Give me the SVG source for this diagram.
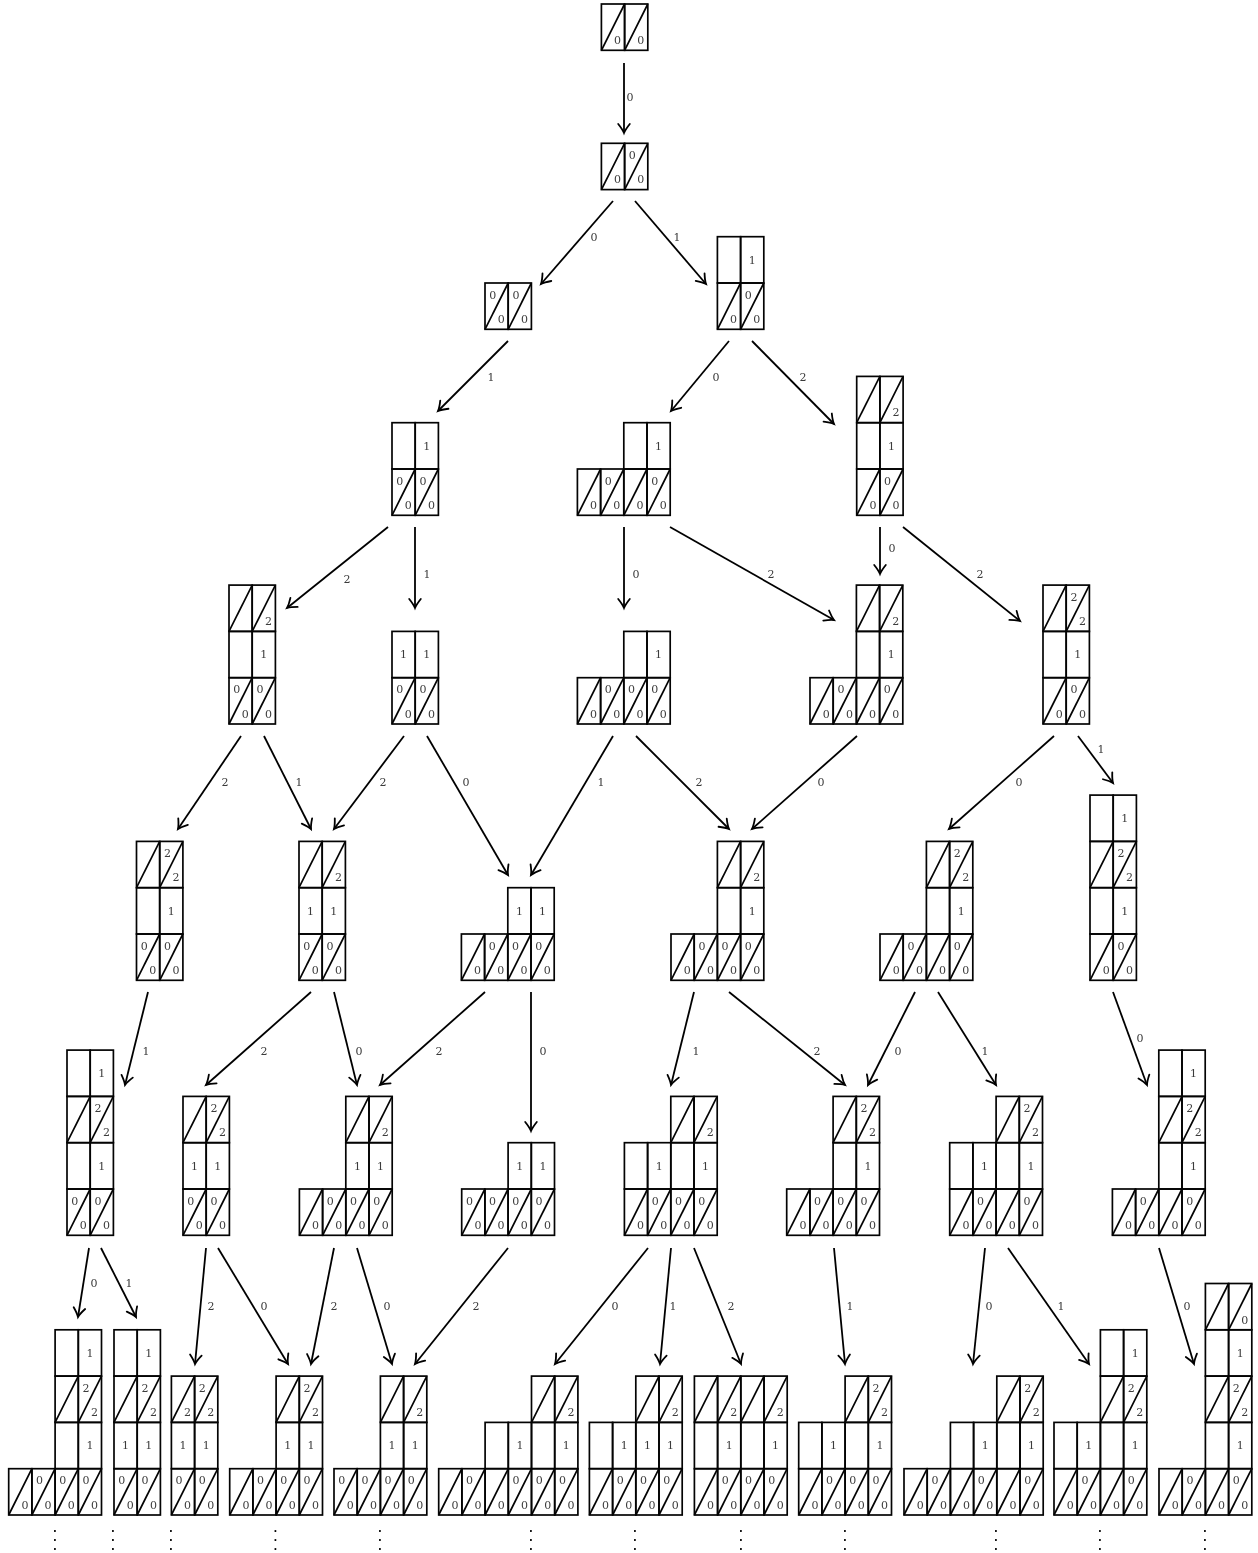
<svg xmlns="http://www.w3.org/2000/svg" xmlns:xlink="http://www.w3.org/1999/xlink" width="1258" height="1553" viewBox="0 0 1258 1553">
<style>
text{font-family:"DejaVu Serif","Liberation Serif",serif;font-size:11px;fill:#3a3a3a;text-anchor:middle}
text.v{font-family:"Liberation Sans",Arial,sans-serif;font-weight:700;font-size:12px;fill:#000}
.cell{fill:none;stroke:#000;stroke-width:1.7}
#edges line{stroke:#000;stroke-width:1.8;marker-end:url(#a)}
#nodes,#dots{opacity:.99}
#labels{filter:url(#g)}
</style>
<defs>
<filter id="g" filterUnits="userSpaceOnUse" x="0" y="0" width="1258" height="1553" color-interpolation-filters="sRGB"><feOffset dx="0" dy="0"/></filter>
<marker id="a" markerUnits="userSpaceOnUse" markerWidth="14" markerHeight="16" refX="12" refY="8" orient="auto" overflow="visible"><path d="M3 2.2Q8.5 6.6 12 8Q8.500 9.400 3 13.800" fill="none" stroke="#000" stroke-width="1.8" stroke-linecap="round"/></marker>
<g id="c"><rect class="cell" width="23.2" height="46.3"/></g>
<g id="d"><rect class="cell" width="23.2" height="46.3"/><line class="cell" x1="0" y1="46.3" x2="23.2" y2="0"/></g>
</defs>
<rect width="1258" height="1553" fill="#fff"/>
<g id="connectors">
<g id="edges">
<line x1="624" y1="63" x2="624" y2="133"/>
<line x1="613" y1="201" x2="541" y2="284"/>
<line x1="635" y1="201" x2="706" y2="284"/>
<line x1="508" y1="341" x2="438" y2="411"/>
<line x1="729" y1="341" x2="671" y2="411"/>
<line x1="752" y1="341" x2="834" y2="424"/>
<line x1="388" y1="527" x2="287" y2="608"/>
<line x1="415" y1="527" x2="415" y2="608"/>
<line x1="624" y1="527" x2="624" y2="608"/>
<line x1="670" y1="527" x2="834" y2="620"/>
<line x1="880" y1="527" x2="880" y2="574"/>
<line x1="903" y1="527" x2="1020" y2="621"/>
<line x1="241" y1="736" x2="178" y2="829"/>
<line x1="264" y1="736" x2="311" y2="829"/>
<line x1="404" y1="736" x2="334" y2="829"/>
<line x1="427" y1="736" x2="508" y2="875"/>
<line x1="613" y1="736" x2="531" y2="875"/>
<line x1="636" y1="736" x2="729" y2="829"/>
<line x1="857" y1="736" x2="752" y2="829"/>
<line x1="1054" y1="736" x2="949" y2="829"/>
<line x1="1078" y1="736" x2="1113" y2="783"/>
<line x1="148" y1="992" x2="125" y2="1085"/>
<line x1="311" y1="992" x2="206" y2="1085"/>
<line x1="334" y1="992" x2="357" y2="1085"/>
<line x1="485" y1="992" x2="380" y2="1085"/>
<line x1="531" y1="992" x2="531" y2="1131"/>
<line x1="694" y1="992" x2="671" y2="1085"/>
<line x1="729" y1="992" x2="845" y2="1085"/>
<line x1="915" y1="992" x2="868" y2="1085"/>
<line x1="938" y1="992" x2="996" y2="1085"/>
<line x1="1113" y1="992" x2="1147" y2="1085"/>
<line x1="89" y1="1248" x2="78" y2="1317"/>
<line x1="101" y1="1248" x2="136" y2="1317"/>
<line x1="206" y1="1248" x2="195" y2="1364"/>
<line x1="218" y1="1248" x2="288" y2="1364"/>
<line x1="334" y1="1248" x2="311" y2="1364"/>
<line x1="357" y1="1248" x2="392" y2="1364"/>
<line x1="508" y1="1248" x2="415" y2="1364"/>
<line x1="648" y1="1248" x2="555" y2="1364"/>
<line x1="671" y1="1248" x2="660" y2="1364"/>
<line x1="694" y1="1248" x2="741" y2="1364"/>
<line x1="834" y1="1248" x2="845" y2="1364"/>
<line x1="985" y1="1248" x2="973" y2="1364"/>
<line x1="1008" y1="1248" x2="1089" y2="1364"/>
<line x1="1159" y1="1248" x2="1194" y2="1364"/>
</g>
<g id="labels">
<text x="630" y="101">0</text><text x="594" y="241">0</text><text x="677" y="241">1</text><text x="491" y="381">1</text><text x="716" y="381">0</text><text x="803" y="381">2</text><text x="347" y="583">2</text><text x="427" y="578">1</text><text x="636" y="578">0</text><text x="771" y="578">2</text><text x="892" y="552">0</text><text x="980" y="578">2</text><text x="225" y="786">2</text><text x="299" y="786">1</text><text x="383" y="786">2</text><text x="466" y="786">0</text><text x="601" y="786">1</text><text x="699" y="786">2</text><text x="821" y="786">0</text><text x="1019" y="786">0</text><text x="1101" y="753">1</text><text x="146" y="1055">1</text><text x="264" y="1055">2</text><text x="359" y="1055">0</text><text x="439" y="1055">2</text><text x="543" y="1055">0</text><text x="696" y="1055">1</text><text x="817" y="1055">2</text><text x="898" y="1055">0</text><text x="985" y="1055">1</text><text x="1140" y="1042">0</text><text x="94" y="1287">0</text><text x="129" y="1287">1</text><text x="211" y="1310">2</text><text x="264" y="1310">0</text><text x="334" y="1310">2</text><text x="387" y="1310">0</text><text x="476" y="1310">2</text><text x="615" y="1310">0</text><text x="673" y="1310">1</text><text x="731" y="1310">2</text><text x="850" y="1310">1</text><text x="989" y="1310">0</text><text x="1061" y="1310">1</text><text x="1187" y="1310">0</text>
</g>
</g>
<g id="nodes">
<g id="n0" transform="translate(601.4,4)"><use href="#d"/><use href="#d" x="23.2"/><text x="16.2" y="40">0</text><text x="39.4" y="40">0</text></g>
<g id="n1" transform="translate(601.4,143.300)"><use href="#d"/><use href="#d" x="23.2"/><text x="16.2" y="40">0</text><text x="30.9" y="15.7">0</text><text x="39.4" y="40">0</text></g>
<g id="n2" transform="translate(485,283)"><use href="#d"/><use href="#d" x="23.2"/><text x="7.7" y="15.7">0</text><text x="16.2" y="40">0</text><text x="30.9" y="15.7">0</text><text x="39.4" y="40">0</text></g>
<g id="n3" transform="translate(717.4,236.700)"><use href="#c"/><use href="#c" x="23.2"/><text x="34.8" y="27">1</text><use href="#d" y="46.3"/><use href="#d" x="23.2" y="46.3"/><text x="16.2" y="86.3">0</text><text x="30.9" y="62">0</text><text x="39.4" y="86.3">0</text></g>
<g id="n4" transform="translate(392,422.700)"><use href="#c"/><use href="#c" x="23.2"/><text x="34.8" y="27">1</text><use href="#d" y="46.3"/><use href="#d" x="23.2" y="46.3"/><text x="7.7" y="62">0</text><text x="16.2" y="86.3">0</text><text x="30.9" y="62">0</text><text x="39.4" y="86.3">0</text></g>
<g id="n5" transform="translate(577.4,422.700)"><use href="#c" x="46.4"/><use href="#c" x="69.6"/><text x="81.2" y="27">1</text><use href="#d" y="46.3"/><use href="#d" x="23.2" y="46.3"/><use href="#d" x="46.4" y="46.3"/><use href="#d" x="69.6" y="46.3"/><text x="16.2" y="86.3">0</text><text x="30.9" y="62">0</text><text x="39.4" y="86.3">0</text><text x="62.6" y="86.3">0</text><text x="77.3" y="62">0</text><text x="85.8" y="86.3">0</text></g>
<g id="n6" transform="translate(856.7,376.400)"><use href="#d"/><use href="#d" x="23.2"/><text x="39.4" y="40">2</text><use href="#c" y="46.3"/><use href="#c" x="23.2" y="46.3"/><text x="34.8" y="73.3">1</text><use href="#d" y="92.6"/><use href="#d" x="23.2" y="92.6"/><text x="16.2" y="132.6">0</text><text x="30.9" y="108.3">0</text><text x="39.4" y="132.6">0</text></g>
<g id="n7" transform="translate(229,585.100)"><use href="#d"/><use href="#d" x="23.2"/><text x="39.4" y="40">2</text><use href="#c" y="46.3"/><use href="#c" x="23.2" y="46.3"/><text x="34.8" y="73.3">1</text><use href="#d" y="92.6"/><use href="#d" x="23.2" y="92.6"/><text x="7.7" y="108.3">0</text><text x="16.2" y="132.6">0</text><text x="30.9" y="108.3">0</text><text x="39.4" y="132.6">0</text></g>
<g id="n8" transform="translate(392,631.400)"><use href="#c"/><use href="#c" x="23.2"/><text x="11.6" y="27">1</text><text x="34.8" y="27">1</text><use href="#d" y="46.3"/><use href="#d" x="23.2" y="46.3"/><text x="7.7" y="62">0</text><text x="16.2" y="86.3">0</text><text x="30.9" y="62">0</text><text x="39.4" y="86.3">0</text></g>
<g id="n9" transform="translate(577.4,631.400)"><use href="#c" x="46.4"/><use href="#c" x="69.6"/><text x="81.2" y="27">1</text><use href="#d" y="46.3"/><use href="#d" x="23.2" y="46.3"/><use href="#d" x="46.4" y="46.3"/><use href="#d" x="69.6" y="46.3"/><text x="16.2" y="86.3">0</text><text x="30.9" y="62">0</text><text x="39.4" y="86.3">0</text><text x="54.1" y="62">0</text><text x="62.6" y="86.3">0</text><text x="77.3" y="62">0</text><text x="85.8" y="86.3">0</text></g>
<g id="n10" transform="translate(810,585.100)"><use href="#d" x="46.4"/><use href="#d" x="69.6"/><text x="85.8" y="40">2</text><use href="#c" x="46.4" y="46.3"/><use href="#c" x="69.6" y="46.3"/><text x="81.2" y="73.3">1</text><use href="#d" y="92.6"/><use href="#d" x="23.2" y="92.6"/><use href="#d" x="46.4" y="92.6"/><use href="#d" x="69.6" y="92.6"/><text x="16.2" y="132.6">0</text><text x="30.9" y="108.3">0</text><text x="39.4" y="132.6">0</text><text x="62.6" y="132.6">0</text><text x="77.3" y="108.3">0</text><text x="85.8" y="132.6">0</text></g>
<g id="n11" transform="translate(1043,585.100)"><use href="#d"/><use href="#d" x="23.2"/><text x="30.9" y="15.7">2</text><text x="39.4" y="40">2</text><use href="#c" y="46.3"/><use href="#c" x="23.2" y="46.3"/><text x="34.8" y="73.3">1</text><use href="#d" y="92.6"/><use href="#d" x="23.2" y="92.6"/><text x="16.2" y="132.6">0</text><text x="30.9" y="108.3">0</text><text x="39.4" y="132.6">0</text></g>
<g id="n12" transform="translate(136.5,841.400)"><use href="#d"/><use href="#d" x="23.2"/><text x="30.9" y="15.7">2</text><text x="39.4" y="40">2</text><use href="#c" y="46.3"/><use href="#c" x="23.2" y="46.3"/><text x="34.8" y="73.3">1</text><use href="#d" y="92.6"/><use href="#d" x="23.2" y="92.6"/><text x="7.7" y="108.3">0</text><text x="16.2" y="132.6">0</text><text x="30.9" y="108.3">0</text><text x="39.4" y="132.6">0</text></g>
<g id="n13" transform="translate(299,841.400)"><use href="#d"/><use href="#d" x="23.2"/><text x="39.4" y="40">2</text><use href="#c" y="46.3"/><use href="#c" x="23.2" y="46.3"/><text x="11.6" y="73.3">1</text><text x="34.8" y="73.3">1</text><use href="#d" y="92.6"/><use href="#d" x="23.2" y="92.6"/><text x="7.7" y="108.3">0</text><text x="16.2" y="132.6">0</text><text x="30.9" y="108.3">0</text><text x="39.4" y="132.6">0</text></g>
<g id="n14" transform="translate(461.4,887.700)"><use href="#c" x="46.4"/><use href="#c" x="69.6"/><text x="58" y="27">1</text><text x="81.2" y="27">1</text><use href="#d" y="46.3"/><use href="#d" x="23.2" y="46.3"/><use href="#d" x="46.4" y="46.3"/><use href="#d" x="69.6" y="46.3"/><text x="16.2" y="86.3">0</text><text x="30.9" y="62">0</text><text x="39.4" y="86.3">0</text><text x="54.1" y="62">0</text><text x="62.6" y="86.3">0</text><text x="77.3" y="62">0</text><text x="85.8" y="86.3">0</text></g>
<g id="n15" transform="translate(671,841.400)"><use href="#d" x="46.4"/><use href="#d" x="69.6"/><text x="85.8" y="40">2</text><use href="#c" x="46.4" y="46.3"/><use href="#c" x="69.6" y="46.3"/><text x="81.2" y="73.3">1</text><use href="#d" y="92.6"/><use href="#d" x="23.2" y="92.6"/><use href="#d" x="46.4" y="92.6"/><use href="#d" x="69.6" y="92.6"/><text x="16.2" y="132.6">0</text><text x="30.9" y="108.3">0</text><text x="39.4" y="132.6">0</text><text x="54.1" y="108.3">0</text><text x="62.6" y="132.6">0</text><text x="77.3" y="108.3">0</text><text x="85.8" y="132.6">0</text></g>
<g id="n16" transform="translate(880,841.400)"><use href="#d" x="46.4"/><use href="#d" x="69.6"/><text x="77.3" y="15.7">2</text><text x="85.8" y="40">2</text><use href="#c" x="46.4" y="46.3"/><use href="#c" x="69.6" y="46.3"/><text x="81.2" y="73.3">1</text><use href="#d" y="92.6"/><use href="#d" x="23.2" y="92.6"/><use href="#d" x="46.4" y="92.6"/><use href="#d" x="69.6" y="92.6"/><text x="16.2" y="132.6">0</text><text x="30.9" y="108.3">0</text><text x="39.4" y="132.6">0</text><text x="62.6" y="132.6">0</text><text x="77.3" y="108.3">0</text><text x="85.8" y="132.6">0</text></g>
<g id="n17" transform="translate(1090,795.100)"><use href="#c"/><use href="#c" x="23.2"/><text x="34.8" y="27">1</text><use href="#d" y="46.3"/><use href="#d" x="23.2" y="46.3"/><text x="30.9" y="62">2</text><text x="39.4" y="86.3">2</text><use href="#c" y="92.6"/><use href="#c" x="23.2" y="92.6"/><text x="34.8" y="119.6">1</text><use href="#d" y="138.9"/><use href="#d" x="23.2" y="138.9"/><text x="16.2" y="178.9">0</text><text x="30.9" y="154.6">0</text><text x="39.4" y="178.9">0</text></g>
<g id="n18" transform="translate(67,1050.100)"><use href="#c"/><use href="#c" x="23.2"/><text x="34.8" y="27">1</text><use href="#d" y="46.3"/><use href="#d" x="23.2" y="46.3"/><text x="30.9" y="62">2</text><text x="39.4" y="86.3">2</text><use href="#c" y="92.6"/><use href="#c" x="23.2" y="92.6"/><text x="34.8" y="119.6">1</text><use href="#d" y="138.9"/><use href="#d" x="23.2" y="138.9"/><text x="7.7" y="154.6">0</text><text x="16.2" y="178.9">0</text><text x="30.9" y="154.6">0</text><text x="39.4" y="178.9">0</text></g>
<g id="n19" transform="translate(183,1096.400)"><use href="#d"/><use href="#d" x="23.2"/><text x="30.9" y="15.7">2</text><text x="39.4" y="40">2</text><use href="#c" y="46.3"/><use href="#c" x="23.2" y="46.3"/><text x="11.6" y="73.3">1</text><text x="34.8" y="73.3">1</text><use href="#d" y="92.6"/><use href="#d" x="23.2" y="92.6"/><text x="7.7" y="108.3">0</text><text x="16.2" y="132.6">0</text><text x="30.9" y="108.3">0</text><text x="39.4" y="132.6">0</text></g>
<g id="n20" transform="translate(299.4,1096.400)"><use href="#d" x="46.4"/><use href="#d" x="69.6"/><text x="85.8" y="40">2</text><use href="#c" x="46.4" y="46.3"/><use href="#c" x="69.6" y="46.3"/><text x="58" y="73.3">1</text><text x="81.2" y="73.3">1</text><use href="#d" y="92.6"/><use href="#d" x="23.2" y="92.6"/><use href="#d" x="46.4" y="92.6"/><use href="#d" x="69.6" y="92.6"/><text x="16.2" y="132.6">0</text><text x="30.9" y="108.3">0</text><text x="39.4" y="132.6">0</text><text x="54.1" y="108.3">0</text><text x="62.6" y="132.6">0</text><text x="77.3" y="108.3">0</text><text x="85.8" y="132.6">0</text></g>
<g id="n21" transform="translate(461.700,1142.700)"><use href="#c" x="46.4"/><use href="#c" x="69.6"/><text x="58" y="27">1</text><text x="81.2" y="27">1</text><use href="#d" y="46.3"/><use href="#d" x="23.2" y="46.3"/><use href="#d" x="46.4" y="46.3"/><use href="#d" x="69.6" y="46.3"/><text x="7.7" y="62">0</text><text x="16.2" y="86.3">0</text><text x="30.9" y="62">0</text><text x="39.4" y="86.3">0</text><text x="54.1" y="62">0</text><text x="62.6" y="86.3">0</text><text x="77.3" y="62">0</text><text x="85.8" y="86.3">0</text></g>
<g id="n22" transform="translate(624.4,1096.400)"><use href="#d" x="46.4"/><use href="#d" x="69.6"/><text x="85.8" y="40">2</text><use href="#c" y="46.3"/><use href="#c" x="23.2" y="46.3"/><use href="#c" x="46.4" y="46.3"/><use href="#c" x="69.6" y="46.3"/><text x="34.8" y="73.3">1</text><text x="81.2" y="73.3">1</text><use href="#d" y="92.6"/><use href="#d" x="23.2" y="92.6"/><use href="#d" x="46.4" y="92.6"/><use href="#d" x="69.6" y="92.6"/><text x="16.2" y="132.6">0</text><text x="30.9" y="108.3">0</text><text x="39.4" y="132.6">0</text><text x="54.1" y="108.3">0</text><text x="62.6" y="132.6">0</text><text x="77.3" y="108.3">0</text><text x="85.8" y="132.6">0</text></g>
<g id="n23" transform="translate(786.700,1096.400)"><use href="#d" x="46.4"/><use href="#d" x="69.6"/><text x="77.3" y="15.7">2</text><text x="85.8" y="40">2</text><use href="#c" x="46.4" y="46.3"/><use href="#c" x="69.6" y="46.3"/><text x="81.2" y="73.3">1</text><use href="#d" y="92.6"/><use href="#d" x="23.2" y="92.6"/><use href="#d" x="46.4" y="92.6"/><use href="#d" x="69.6" y="92.6"/><text x="16.2" y="132.6">0</text><text x="30.9" y="108.3">0</text><text x="39.4" y="132.6">0</text><text x="54.1" y="108.3">0</text><text x="62.6" y="132.6">0</text><text x="77.3" y="108.3">0</text><text x="85.8" y="132.6">0</text></g>
<g id="n24" transform="translate(949.700,1096.400)"><use href="#d" x="46.4"/><use href="#d" x="69.6"/><text x="77.3" y="15.7">2</text><text x="85.8" y="40">2</text><use href="#c" y="46.3"/><use href="#c" x="23.2" y="46.3"/><use href="#c" x="46.4" y="46.3"/><use href="#c" x="69.6" y="46.3"/><text x="34.8" y="73.3">1</text><text x="81.2" y="73.3">1</text><use href="#d" y="92.6"/><use href="#d" x="23.2" y="92.6"/><use href="#d" x="46.4" y="92.6"/><use href="#d" x="69.6" y="92.6"/><text x="16.2" y="132.6">0</text><text x="30.9" y="108.3">0</text><text x="39.4" y="132.6">0</text><text x="62.6" y="132.6">0</text><text x="77.3" y="108.3">0</text><text x="85.8" y="132.6">0</text></g>
<g id="n25" transform="translate(1112.4,1050.100)"><use href="#c" x="46.4"/><use href="#c" x="69.6"/><text x="81.2" y="27">1</text><use href="#d" x="46.4" y="46.3"/><use href="#d" x="69.6" y="46.3"/><text x="77.3" y="62">2</text><text x="85.8" y="86.3">2</text><use href="#c" x="46.4" y="92.6"/><use href="#c" x="69.6" y="92.6"/><text x="81.2" y="119.6">1</text><use href="#d" y="138.9"/><use href="#d" x="23.2" y="138.9"/><use href="#d" x="46.4" y="138.9"/><use href="#d" x="69.6" y="138.9"/><text x="16.2" y="178.9">0</text><text x="30.9" y="154.6">0</text><text x="39.4" y="178.9">0</text><text x="62.6" y="178.9">0</text><text x="77.3" y="154.6">0</text><text x="85.8" y="178.9">0</text></g>
<g id="n26" transform="translate(8.7,1329.800)"><use href="#c" x="46.4"/><use href="#c" x="69.6"/><text x="81.2" y="27">1</text><use href="#d" x="46.4" y="46.3"/><use href="#d" x="69.6" y="46.3"/><text x="77.3" y="62">2</text><text x="85.8" y="86.3">2</text><use href="#c" x="46.4" y="92.6"/><use href="#c" x="69.6" y="92.6"/><text x="81.2" y="119.6">1</text><use href="#d" y="138.9"/><use href="#d" x="23.2" y="138.9"/><use href="#d" x="46.4" y="138.9"/><use href="#d" x="69.6" y="138.9"/><text x="16.2" y="178.9">0</text><text x="30.9" y="154.6">0</text><text x="39.4" y="178.9">0</text><text x="54.1" y="154.6">0</text><text x="62.6" y="178.9">0</text><text x="77.3" y="154.6">0</text><text x="85.8" y="178.9">0</text></g>
<g id="n27" transform="translate(114,1329.800)"><use href="#c"/><use href="#c" x="23.2"/><text x="34.8" y="27">1</text><use href="#d" y="46.3"/><use href="#d" x="23.2" y="46.3"/><text x="30.9" y="62">2</text><text x="39.4" y="86.3">2</text><use href="#c" y="92.6"/><use href="#c" x="23.2" y="92.6"/><text x="11.6" y="119.6">1</text><text x="34.8" y="119.6">1</text><use href="#d" y="138.9"/><use href="#d" x="23.2" y="138.9"/><text x="7.7" y="154.6">0</text><text x="16.2" y="178.9">0</text><text x="30.9" y="154.6">0</text><text x="39.4" y="178.9">0</text></g>
<g id="n28" transform="translate(171.4,1376.100)"><use href="#d"/><use href="#d" x="23.2"/><text x="16.2" y="40">2</text><text x="30.9" y="15.7">2</text><text x="39.4" y="40">2</text><use href="#c" y="46.3"/><use href="#c" x="23.2" y="46.3"/><text x="11.6" y="73.3">1</text><text x="34.8" y="73.3">1</text><use href="#d" y="92.6"/><use href="#d" x="23.2" y="92.6"/><text x="7.7" y="108.3">0</text><text x="16.2" y="132.6">0</text><text x="30.9" y="108.3">0</text><text x="39.4" y="132.6">0</text></g>
<g id="n29" transform="translate(229.700,1376.100)"><use href="#d" x="46.4"/><use href="#d" x="69.6"/><text x="77.3" y="15.7">2</text><text x="85.8" y="40">2</text><use href="#c" x="46.4" y="46.3"/><use href="#c" x="69.6" y="46.3"/><text x="58" y="73.3">1</text><text x="81.2" y="73.3">1</text><use href="#d" y="92.6"/><use href="#d" x="23.2" y="92.6"/><use href="#d" x="46.4" y="92.6"/><use href="#d" x="69.6" y="92.6"/><text x="16.2" y="132.6">0</text><text x="30.9" y="108.3">0</text><text x="39.4" y="132.6">0</text><text x="54.1" y="108.3">0</text><text x="62.6" y="132.6">0</text><text x="77.3" y="108.3">0</text><text x="85.8" y="132.6">0</text></g>
<g id="n30" transform="translate(334,1376.100)"><use href="#d" x="46.4"/><use href="#d" x="69.6"/><text x="85.8" y="40">2</text><use href="#c" x="46.4" y="46.3"/><use href="#c" x="69.6" y="46.3"/><text x="58" y="73.3">1</text><text x="81.2" y="73.3">1</text><use href="#d" y="92.6"/><use href="#d" x="23.2" y="92.6"/><use href="#d" x="46.4" y="92.6"/><use href="#d" x="69.6" y="92.6"/><text x="7.7" y="108.3">0</text><text x="16.2" y="132.6">0</text><text x="30.9" y="108.3">0</text><text x="39.4" y="132.6">0</text><text x="54.1" y="108.3">0</text><text x="62.6" y="132.6">0</text><text x="77.3" y="108.3">0</text><text x="85.8" y="132.6">0</text></g>
<g id="n31" transform="translate(438.700,1376.100)"><use href="#d" x="92.8"/><use href="#d" x="116"/><text x="132.2" y="40">2</text><use href="#c" x="46.4" y="46.3"/><use href="#c" x="69.6" y="46.3"/><use href="#c" x="92.8" y="46.3"/><use href="#c" x="116" y="46.3"/><text x="81.2" y="73.3">1</text><text x="127.6" y="73.3">1</text><use href="#d" y="92.6"/><use href="#d" x="23.2" y="92.6"/><use href="#d" x="46.4" y="92.6"/><use href="#d" x="69.6" y="92.6"/><use href="#d" x="92.8" y="92.6"/><use href="#d" x="116" y="92.6"/><text x="16.2" y="132.6">0</text><text x="30.9" y="108.3">0</text><text x="39.4" y="132.6">0</text><text x="62.6" y="132.6">0</text><text x="77.3" y="108.3">0</text><text x="85.8" y="132.6">0</text><text x="100.5" y="108.3">0</text><text x="109" y="132.6">0</text><text x="123.7" y="108.3">0</text><text x="132.2" y="132.6">0</text></g>
<g id="n32" transform="translate(589.4,1376.100)"><use href="#d" x="46.4"/><use href="#d" x="69.6"/><text x="85.8" y="40">2</text><use href="#c" y="46.3"/><use href="#c" x="23.2" y="46.3"/><use href="#c" x="46.4" y="46.3"/><use href="#c" x="69.6" y="46.3"/><text x="34.8" y="73.3">1</text><text x="58" y="73.3">1</text><text x="81.2" y="73.3">1</text><use href="#d" y="92.6"/><use href="#d" x="23.2" y="92.6"/><use href="#d" x="46.4" y="92.6"/><use href="#d" x="69.6" y="92.6"/><text x="16.2" y="132.6">0</text><text x="30.9" y="108.3">0</text><text x="39.4" y="132.6">0</text><text x="54.1" y="108.3">0</text><text x="62.6" y="132.6">0</text><text x="77.3" y="108.3">0</text><text x="85.8" y="132.6">0</text></g>
<g id="n33" transform="translate(694.4,1376.100)"><use href="#d"/><use href="#d" x="23.2"/><use href="#d" x="46.4"/><use href="#d" x="69.6"/><text x="39.4" y="40">2</text><text x="85.8" y="40">2</text><use href="#c" y="46.3"/><use href="#c" x="23.2" y="46.3"/><use href="#c" x="46.4" y="46.3"/><use href="#c" x="69.6" y="46.3"/><text x="34.8" y="73.3">1</text><text x="81.2" y="73.3">1</text><use href="#d" y="92.6"/><use href="#d" x="23.2" y="92.6"/><use href="#d" x="46.4" y="92.6"/><use href="#d" x="69.6" y="92.6"/><text x="16.2" y="132.6">0</text><text x="30.9" y="108.3">0</text><text x="39.4" y="132.6">0</text><text x="54.1" y="108.3">0</text><text x="62.6" y="132.6">0</text><text x="77.3" y="108.3">0</text><text x="85.8" y="132.6">0</text></g>
<g id="n34" transform="translate(798.700,1376.100)"><use href="#d" x="46.4"/><use href="#d" x="69.6"/><text x="77.3" y="15.7">2</text><text x="85.8" y="40">2</text><use href="#c" y="46.3"/><use href="#c" x="23.2" y="46.3"/><use href="#c" x="46.4" y="46.3"/><use href="#c" x="69.6" y="46.3"/><text x="34.8" y="73.3">1</text><text x="81.2" y="73.3">1</text><use href="#d" y="92.6"/><use href="#d" x="23.2" y="92.6"/><use href="#d" x="46.4" y="92.6"/><use href="#d" x="69.6" y="92.6"/><text x="16.2" y="132.6">0</text><text x="30.9" y="108.3">0</text><text x="39.4" y="132.6">0</text><text x="54.1" y="108.3">0</text><text x="62.6" y="132.6">0</text><text x="77.3" y="108.3">0</text><text x="85.8" y="132.6">0</text></g>
<g id="n35" transform="translate(904,1376.100)"><use href="#d" x="92.8"/><use href="#d" x="116"/><text x="123.7" y="15.7">2</text><text x="132.2" y="40">2</text><use href="#c" x="46.4" y="46.3"/><use href="#c" x="69.6" y="46.3"/><use href="#c" x="92.8" y="46.3"/><use href="#c" x="116" y="46.3"/><text x="81.2" y="73.3">1</text><text x="127.6" y="73.3">1</text><use href="#d" y="92.6"/><use href="#d" x="23.2" y="92.6"/><use href="#d" x="46.4" y="92.6"/><use href="#d" x="69.6" y="92.6"/><use href="#d" x="92.8" y="92.6"/><use href="#d" x="116" y="92.6"/><text x="16.2" y="132.6">0</text><text x="30.9" y="108.3">0</text><text x="39.4" y="132.6">0</text><text x="62.6" y="132.6">0</text><text x="77.3" y="108.3">0</text><text x="85.8" y="132.6">0</text><text x="109" y="132.6">0</text><text x="123.7" y="108.3">0</text><text x="132.2" y="132.6">0</text></g>
<g id="n36" transform="translate(1054,1329.800)"><use href="#c" x="46.4"/><use href="#c" x="69.6"/><text x="81.2" y="27">1</text><use href="#d" x="46.4" y="46.3"/><use href="#d" x="69.6" y="46.3"/><text x="77.3" y="62">2</text><text x="85.8" y="86.3">2</text><use href="#c" y="92.6"/><use href="#c" x="23.2" y="92.6"/><use href="#c" x="46.4" y="92.6"/><use href="#c" x="69.6" y="92.6"/><text x="34.8" y="119.6">1</text><text x="81.2" y="119.6">1</text><use href="#d" y="138.9"/><use href="#d" x="23.2" y="138.9"/><use href="#d" x="46.4" y="138.9"/><use href="#d" x="69.6" y="138.9"/><text x="16.2" y="178.9">0</text><text x="30.9" y="154.6">0</text><text x="39.4" y="178.9">0</text><text x="62.6" y="178.9">0</text><text x="77.3" y="154.6">0</text><text x="85.8" y="178.9">0</text></g>
<g id="n37" transform="translate(1159,1283.500)"><use href="#d" x="46.4"/><use href="#d" x="69.6"/><text x="85.8" y="40">0</text><use href="#c" x="46.4" y="46.3"/><use href="#c" x="69.6" y="46.3"/><text x="81.2" y="73.3">1</text><use href="#d" x="46.4" y="92.6"/><use href="#d" x="69.6" y="92.6"/><text x="77.3" y="108.3">2</text><text x="85.8" y="132.6">2</text><use href="#c" x="46.4" y="138.9"/><use href="#c" x="69.6" y="138.9"/><text x="81.2" y="165.9">1</text><use href="#d" y="185.2"/><use href="#d" x="23.2" y="185.2"/><use href="#d" x="46.4" y="185.2"/><use href="#d" x="69.6" y="185.2"/><text x="16.2" y="225.2">0</text><text x="30.9" y="200.9">0</text><text x="39.4" y="225.2">0</text><text x="62.6" y="225.2">0</text><text x="77.3" y="200.9">0</text><text x="85.8" y="225.2">0</text></g>
</g>
<g id="dots"><text class="v" x="55 55 55" y="1532 1541.300 1550.200">...</text><text class="v" x="113 113 113" y="1532 1541.300 1550.200">...</text><text class="v" x="171 171 171" y="1532 1541.300 1550.200">...</text><text class="v" x="275.500 275.500 275.500" y="1532 1541.300 1550.200">...</text><text class="v" x="380 380 380" y="1532 1541.300 1550.200">...</text><text class="v" x="531 531 531" y="1532 1541.300 1550.200">...</text><text class="v" x="635 635 635" y="1532 1541.300 1550.200">...</text><text class="v" x="741 741 741" y="1532 1541.300 1550.200">...</text><text class="v" x="845 845 845" y="1532 1541.300 1550.200">...</text><text class="v" x="996 996 996" y="1532 1541.300 1550.200">...</text><text class="v" x="1100 1100 1100" y="1532 1541.300 1550.200">...</text><text class="v" x="1205 1205 1205" y="1532 1541.300 1550.200">...</text></g>
</svg>
